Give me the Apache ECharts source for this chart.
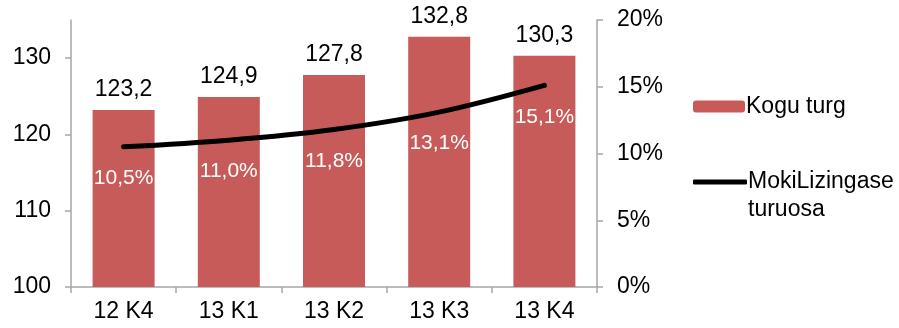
<!DOCTYPE html>
<html>
<head>
<meta charset="utf-8">
<script src="https://cdn.jsdelivr.net/npm/echarts@6/dist/echarts.min.js"></script>
<style>
  html, body { margin: 0; padding: 0; background: #fff; }
  #chart { width: 899px; height: 328px; }
</style>
</head>
<body>
<div id="chart"></div>
<script>
const categories = ['12 K4', '13 K1', '13 K2', '13 K3', '13 K4']
const marketTotal = [123.2, 124.9, 127.8, 132.8, 130.3]
const mokiShare = [10.5, 11.0, 11.8, 13.1, 15.1]
const leftTicks = [100, 110, 120, 130]

const barName = 'Kogu turg'
const lineName = 'MokiLizingase turuosa'

const font = 'Arial, "Liberation Sans", sans-serif'
const axisGray = '#a6a6a6'
const comma = (v, d) => v.toFixed(d).replace('.', ',')

const chart = echarts.init(document.getElementById('chart'))

chart.setOption({
  animation: false,
  textStyle: { fontFamily: font },
  grid: { left: 71, right: 302, top: 20, bottom: 41 },
  legend: [
    {
      data: [barName],
      orient: 'vertical',
      left: 688,
      top: 90,
      itemWidth: 52,
      itemHeight: 12,
      itemGap: 0,
      textStyle: { fontFamily: font, fontSize: 23, color: '#000', padding: [0, 0, 0, -4] }
    },
    {
      data: [{ name: lineName, icon: 'roundRect' }],
      orient: 'vertical',
      left: 688,
      top: 135,
      itemWidth: 54,
      itemHeight: 5,
      itemGap: 0,
      // blank first line keeps the icon level with "MokiLizingase"
      formatter: () => ' \nMokiLizingase\nturuosa',
      textStyle: {
        fontFamily: font, fontSize: 23, color: '#000',
        lineHeight: 28, padding: [0, 0, 0, -4]
      }
    }
  ],
  xAxis: {
    type: 'category',
    data: categories,
    axisLine: { lineStyle: { color: axisGray, width: 1.5 } },
    axisTick: { show: true, length: 6, lineStyle: { color: axisGray, width: 1.5 } },
    axisLabel: { color: '#000', fontSize: 23, margin: 13, fontFamily: font }
  },
  yAxis: [
    {
      type: 'value',
      min: 100,
      max: 135,
      interval: 10,
      splitLine: { show: false },
      axisLine: { show: true, lineStyle: { color: axisGray, width: 1.5 } },
      axisTick: { show: true, length: 6, customValues: leftTicks, lineStyle: { color: axisGray, width: 1.5 } },
      axisLabel: { color: '#000', fontSize: 23, margin: 20, customValues: leftTicks, fontFamily: font }
    },
    {
      type: 'value',
      min: 0,
      max: 20,
      interval: 5,
      splitLine: { show: false },
      axisLine: { show: true, lineStyle: { color: axisGray, width: 1.5 } },
      axisTick: { show: true, length: 6, lineStyle: { color: axisGray, width: 1.5 } },
      axisLabel: { color: '#000', fontSize: 23, margin: 20, formatter: '{value}%', fontFamily: font }
    }
  ],
  series: [
    {
      name: barName,
      type: 'bar',
      data: marketTotal,
      barWidth: 62,
      itemStyle: { color: '#c75b59' },
      label: {
        show: true,
        position: 'top',
        distance: 9,
        color: '#000',
        fontSize: 23,
        fontFamily: font,
        formatter: p => comma(p.value, 1)
      }
    },
    {
      name: lineName,
      type: 'line',
      yAxisIndex: 1,
      data: mokiShare,
      smooth: 0.35,
      symbol: 'circle',
      symbolSize: 0.1,
      lineStyle: { color: '#000', width: 5, cap: 'round' },
      itemStyle: { color: '#000' },
      label: {
        show: true,
        position: 'bottom',
        distance: 21,
        color: '#fff',
        fontSize: 21,
        fontFamily: font,
        formatter: p => comma(p.value, 1) + '%'
      }
    }
  ]
})
</script>
</body>
</html>
